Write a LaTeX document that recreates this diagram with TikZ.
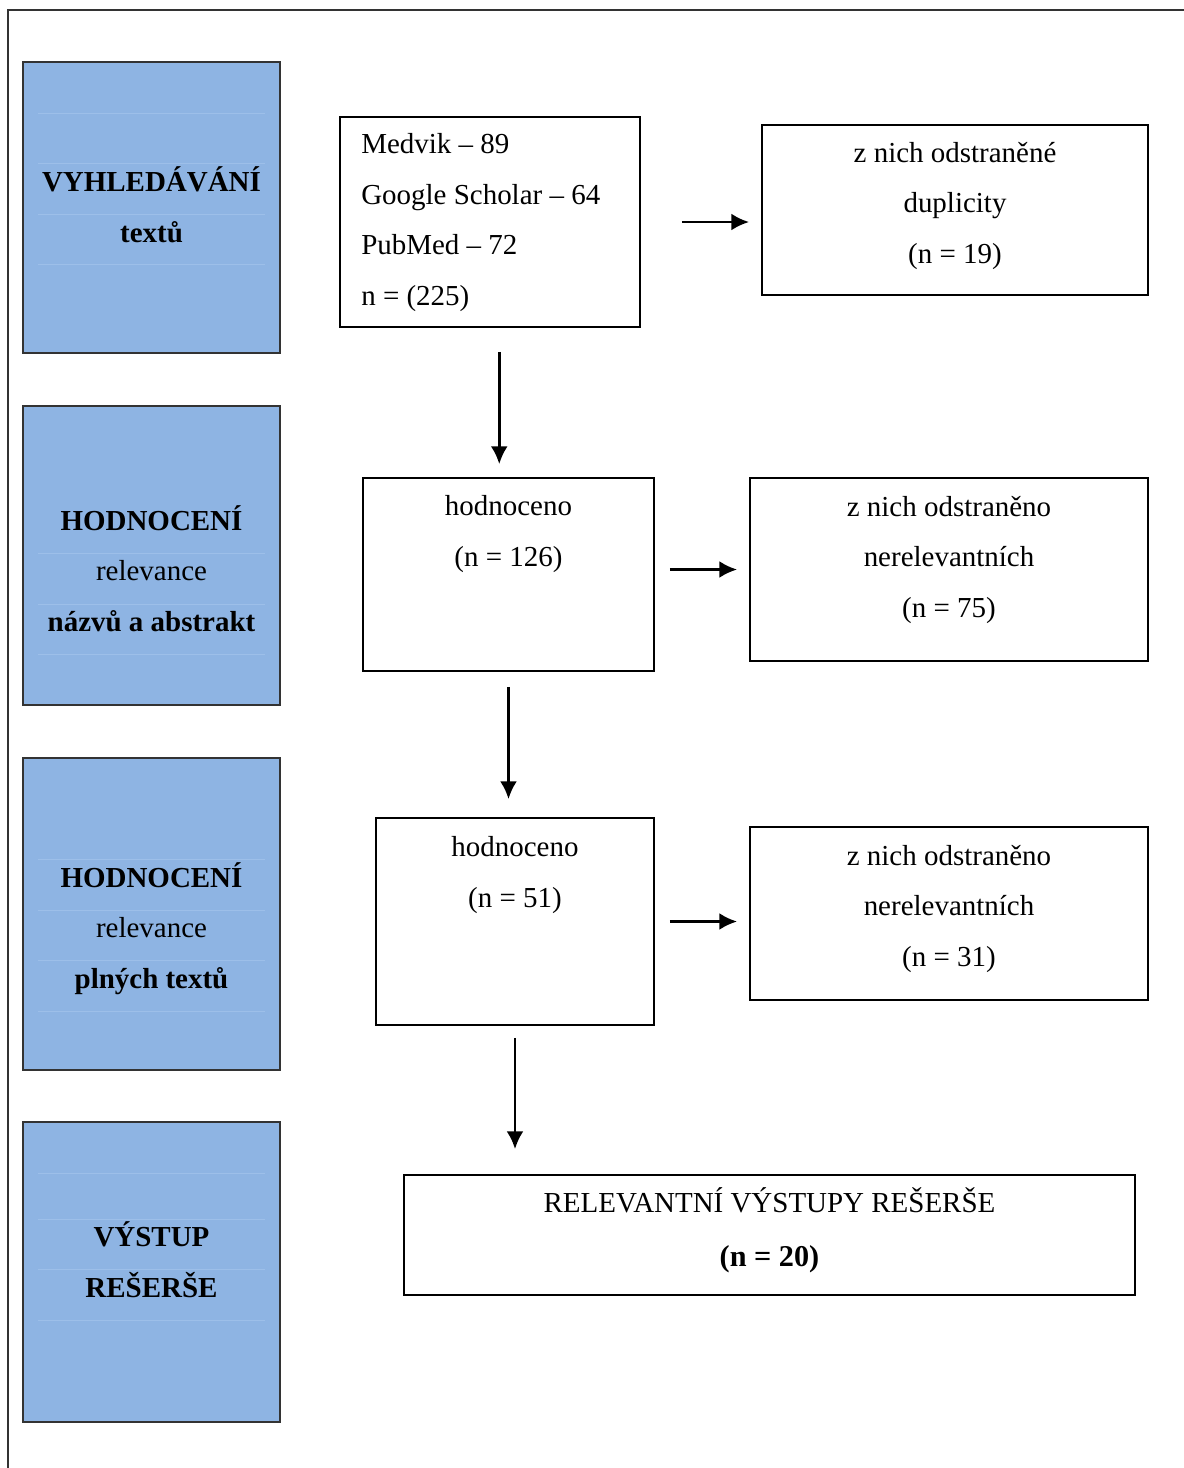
\documentclass[tikz,border=0pt]{standalone}
\usepackage{fontspec}
\setmainfont{Liberation Serif}
\usetikzlibrary{arrows.meta,calc}
\definecolor{fazemodra}{HTML}{8EB4E3}
\definecolor{fazelinka}{HTML}{9DBFE9}
\definecolor{ramecek}{HTML}{333333}
\begin{document}
\begin{tikzpicture}[x=0.025cm, y=-0.025cm,
  faze/.style={draw=ramecek, line width=1.3pt, fill=fazemodra, inner sep=0pt,
               minimum width=257*0.025cm},
  krok/.style={draw=black, line width=1.3pt, inner sep=0pt},
  popis/.style={font=\fontsize{20.6}{35.9}\selectfont, align=center,
                anchor=base, inner sep=0pt},
  tucne/.style={popis, font=\fontsize{20.6}{35.9}\selectfont\bfseries},
  sipka/.style={-{Latex[length=0.44cm, width=0.42cm]}, line width=2pt}]
  \useasboundingbox (0,0) rectangle (1184,1468);

  %% --- ramecek stranky ---
  \draw[ramecek, line width=1.2pt] (8,1468) -- (8,10) -- (1184,10);

  %% --- leve sloupce: faze reserse ---
  \node[faze, minimum height=291*0.025cm] (B1) at (151.5,207.5) {};
  \node[faze, minimum height=299*0.025cm] (B2) at (151.5,555.5) {};
  \node[faze, minimum height=312*0.025cm] (B3) at (151.5,914) {};
  \node[faze, minimum height=300*0.025cm] (B4) at (151.5,1272) {};
  %% jemne linky tabulky uvnitr modrych poli
  \foreach \y in {113,163,214,264,553,604,654,859,910,960,1011,1173,1219,1269,1320}
    \draw[fazelinka, line width=0.6pt] (38,\y) -- (265,\y);

  %% (kotva base = uctari posledniho radku)
  \node[tucne] (tB1) at (151.5,242) {VYHLEDÁVÁNÍ\\textů};
  \node[tucne] (tB2) at (151.5,631) {HODNOCENÍ\\{\mdseries relevance}\\názvů a abstrakt};
  \node[tucne] (tB3) at (151.5,988) {HODNOCENÍ\\{\mdseries relevance}\\plných textů};
  \node[tucne] (tB4) at (151.5,1297) {VÝSTUP\\REŠERŠE};

  %% --- prave sloupce: kroky a vyrazene zaznamy ---
  \node[krok, minimum width=300*0.025cm, minimum height=210*0.025cm] (M) at (490,222) {};
  \node[krok, minimum width=386*0.025cm, minimum height=170*0.025cm] (D1) at (955,210) {};
  \node[krok, minimum width=291*0.025cm, minimum height=193*0.025cm] (H1) at (508.5,574.5) {};
  \node[krok, minimum width=398*0.025cm, minimum height=183*0.025cm] (N1) at (949,569.5) {};
  \node[krok, minimum width=278*0.025cm, minimum height=207*0.025cm] (H2) at (515,921.5) {};
  \node[krok, minimum width=398*0.025cm, minimum height=173*0.025cm] (N2) at (949,913.5) {};
  \node[krok, minimum width=731*0.025cm, minimum height=120*0.025cm] (R) at (769.5,1235) {};

  \node[popis, align=left, anchor=base west] (tM) at (361,305)
    {Medvik – 89\\Google Scholar – 64\\PubMed – 72\\n = (225)};
  \node[popis] (tD1) at (955,263) {z nich odstraněné\\duplicity\\(n = 19)};
  \node[popis] (tH1) at (508.5,566) {hodnoceno\\(n = 126)};
  \node[popis] (tN1) at (949,617) {z nich odstraněno\\nerelevantních\\(n = 75)};
  \node[popis] (tH2) at (515,907) {hodnoceno\\(n = 51)};
  \node[popis] (tN2) at (949,966) {z nich odstraněno\\nerelevantních\\(n = 31)};
  \node[popis] (tR) at (769.5,1266)
    {RELEVANTNÍ VÝSTUPY REŠERŠE\\[2.5pt]{\fontsize{21.5}{35.9}\selectfont\bfseries (n = 20)}};

  %% --- sipky ---
  \coordinate (s1) at ($(M.south)!.5!(H1.north)$);
  \draw[sipka, shorten <=1.025cm, shorten >=0.3cm] (M.east) -- (M.east -| D1.west);
  \draw[sipka, shorten <=0.6cm, shorten >=0.325cm] (s1 |- M.south) -- (s1 |- H1.north);
  \draw[sipka, shorten <=0.375cm, shorten >=0.3cm] (N1.west -| H1.east) -- (N1.west);
  \draw[sipka, shorten <=0.375cm, shorten >=0.45cm] (H1.south) -- (H1.south |- H2.north);
  \draw[sipka, shorten <=0.375cm, shorten >=0.3cm] (H2.east) -- (H2.east -| N2.west);
  \draw[sipka, shorten <=0.3cm, shorten >=0.625cm] (H2.south) -- (H2.south |- R.north);
\end{tikzpicture}
\end{document}
